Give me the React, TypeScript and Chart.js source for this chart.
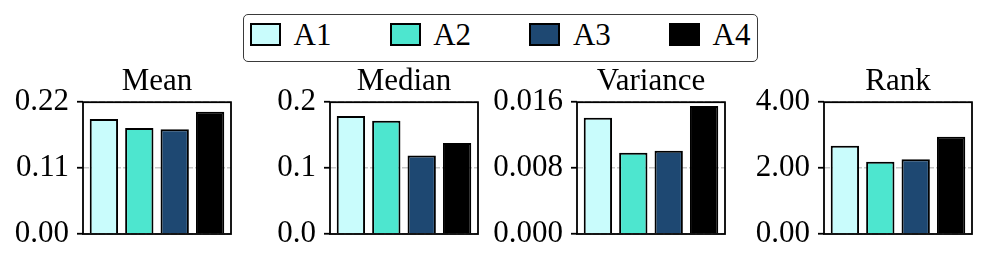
import React, { useEffect, useRef } from "react";
import { Chart, registerables } from "chart.js";

Chart.register(...registerables);

const seriesNames = ["A1", "A2", "A3", "A4"];
const seriesColors = ["#c9fcfc", "#4de6cf", "#1e4872", "#000000"];

const panelTitles = ["Mean", "Median", "Variance", "Rank"];
const meanValues = [0.192, 0.177, 0.175, 0.204];
const medianValues = [0.179, 0.172, 0.119, 0.138];
const varianceValues = [0.0141, 0.00985, 0.0101, 0.01555];
const rankValues = [2.68, 2.19, 2.27, 2.95];

const meanTicks = ["0.00", "0.11", "0.22"];
const medianTicks = ["0.0", "0.1", "0.2"];
const varianceTicks = ["0.000", "0.008", "0.016"];
const rankTicks = ["0.00", "2.00", "4.00"];

const panelValues = [meanValues, medianValues, varianceValues, rankValues];
const panelTicks = [meanTicks, medianTicks, varianceTicks, rankTicks];

const FONT = "'Liberation Serif', 'Times New Roman', serif";
const FONT_SIZE = 31;

const AXIS_W = 83;
const BOX_W = 148;
const PAD_R = 6;
const CANVAS_W = AXIS_W + BOX_W + PAD_R;
const CANVAS_TOP = 60;
const CANVAS_H = 194;
const PANEL_STEP = 247;

const framePlugin = {
  id: "frame",
  afterDatasetsDraw(chart: any) {
    const { ctx, chartArea } = chart;
    ctx.save();
    ctx.strokeStyle = "#000";
    ctx.lineWidth = 1.8;
    ctx.strokeRect(chartArea.left, chartArea.top, chartArea.right - chartArea.left, chartArea.bottom - chartArea.top);
    ctx.restore();
  },
};

function Panel({ index }: { index: number }) {
  const ref = useRef<HTMLCanvasElement | null>(null);
  useEffect(() => {
    if (!ref.current) return;
    const values = panelValues[index];
    const ticks = panelTicks[index];
    const tickNums = ticks.map((t) => parseFloat(t));
    const chart = new Chart(ref.current, {
      type: "bar",
      data: {
        datasets: seriesNames.map((name, i) => ({
          label: name,
          data: [{ x: i, y: values[i] }],
          backgroundColor: seriesColors[i],
          borderColor: "#000",
          borderWidth: 2,
          grouped: false,
          barPercentage: 0.8,
          categoryPercentage: 1.0,
        })),
      },
      options: {
        animation: false,
        responsive: false,
        layout: { padding: { left: 0, right: PAD_R, top: 0, bottom: 20 } },
        plugins: {
          legend: { display: false },
          tooltip: { enabled: false },
          title: {
            display: true,
            text: panelTitles[index],
            color: "#000",
            fullSize: false,
            font: { family: FONT, size: FONT_SIZE, weight: "normal" },
            padding: { top: 3, bottom: 2 },
          },
        },
        scales: {
          x: {
            type: "linear",
            min: -0.59,
            max: 3.59,
            offset: false,
            display: false,
          },
          y: {
            type: "linear",
            min: tickNums[0],
            max: tickNums[tickNums.length - 1],
            afterFit: (scale: any) => {
              scale.width = AXIS_W;
              scale.paddingTop = 0;
              scale.paddingBottom = 0;
            },
            afterBuildTicks: (scale: any) => {
              scale.ticks = tickNums.map((v) => ({ value: v }));
            },
            ticks: {
              color: "#000",
              padding: 8,
              font: { family: FONT, size: FONT_SIZE },
              callback: (_v: any, i: number) => ticks[i],
            },
            grid: {
              color: "#c8c8c8",
              lineWidth: 1.5,
              tickColor: "#000",
              tickLength: 6,
              tickWidth: 1.8,
            },
            border: { display: false, dash: [6, 2] },
          },
        },
      },
      plugins: [framePlugin],
    } as any);
    return () => chart.destroy();
  }, [index]);
  return (
    <canvas
      ref={ref}
      width={CANVAS_W}
      height={CANVAS_H}
      style={{ position: "absolute", left: index * PANEL_STEP, top: CANVAS_TOP, width: CANVAS_W, height: CANVAS_H }}
    />
  );
}

function Legend() {
  return (
    <div
      style={{
        position: "absolute",
        left: 243,
        top: 14,
        width: 515,
        height: 48,
        boxSizing: "border-box",
        border: "1.8px solid #3a3a3a",
        borderRadius: 5,
        background: "#fff",
      }}
    >
      {seriesNames.map((name, i) => (
        <React.Fragment key={name}>
          <div
            style={{
              position: "absolute",
              left: 6 + i * 139.7,
              top: 8,
              width: 31,
              height: 23,
              boxSizing: "border-box",
              border: "2px solid #000",
              background: seriesColors[i],
            }}
          />
          <div
            style={{
              position: "absolute",
              left: 49.5 + i * 139.7,
              top: 5,
              fontFamily: FONT,
              fontSize: FONT_SIZE,
              lineHeight: "30px",
              color: "#000",
              whiteSpace: "nowrap",
            }}
          >
            {name}
          </div>
        </React.Fragment>
      ))}
    </div>
  );
}

export default function App() {
  return (
    <div style={{ position: "absolute", left: 0, top: 0, width: 986, height: 266, background: "#fff", overflow: "hidden" }}>
      {panelTitles.map((_t, i) => (
        <Panel key={i} index={i} />
      ))}
      <Legend />
    </div>
  );
}
